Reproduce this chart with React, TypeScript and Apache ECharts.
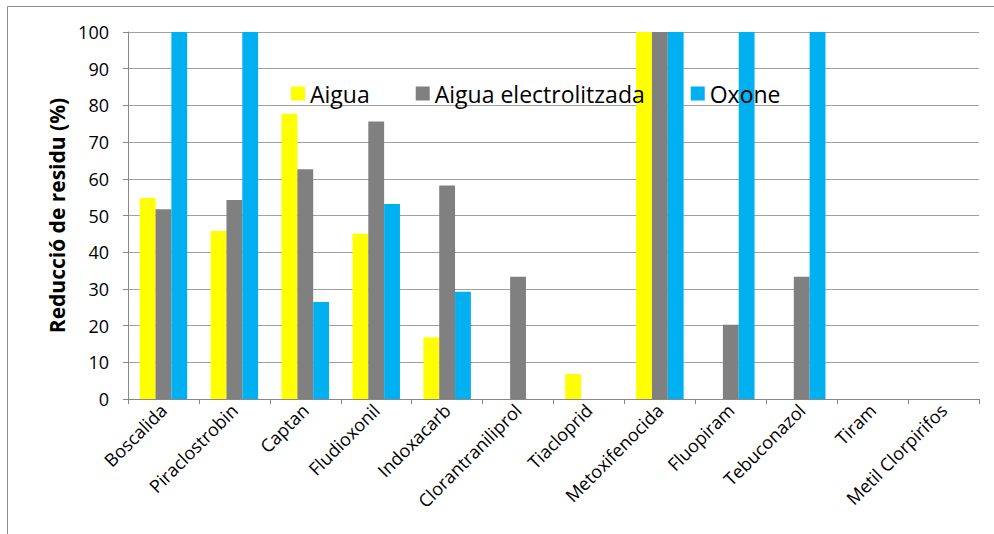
import React, { useEffect, useRef } from "react";
import * as echarts from "echarts";

const categories = [
  "Boscalida",
  "Piraclostrobin",
  "Captan",
  "Fludioxonil",
  "Indoxacarb",
  "Clorantraniliprol",
  "Tiacloprid",
  "Metoxifenocida",
  "Fluopiram",
  "Tebuconazol",
  "Tiram",
  "Metil Clorpirifos",
];
const aigua = [54.8, 45.8, 77.7, 45.0, 16.8, 0, 6.8, 100, 0, 0, 0, 0];
const aiguaElectro = [51.7, 54.2, 62.6, 75.6, 58.2, 33.3, 0, 100, 20.2, 33.3, 0, 0];
const oxone = [100, 100, 26.4, 53.1, 29.2, 0, 0, 100, 100, 100, 0, 0];
const yTicks = [0, 10, 20, 30, 40, 50, 60, 70, 80, 90, 100];

const FONT = "'Open Sans', 'Noto Sans', sans-serif";

export default function App() {
  const ref = useRef<HTMLDivElement>(null);
  useEffect(() => {
    if (!ref.current) return;
    const chart = echarts.init(ref.current, null, { renderer: "svg" });
    const mk = (name: string, data: number[], color: string) => ({
      name,
      type: "bar",
      data,
      barGap: "0%",
      barCategoryGap: "33%",
      itemStyle: { color },
    });
    chart.setOption({
      animation: false,
      backgroundColor: "#ffffff",
      textStyle: { fontFamily: FONT },
      graphic: [
        {
          type: "rect",
          shape: { x: 7.5, y: 6.5, width: 1100, height: 700 },
          style: { fill: "none", stroke: "#8c8c8c", lineWidth: 1 },
          silent: true,
        },
      ],
      legend: {
        left: 286,
        top: 77,
        itemWidth: 14,
        itemHeight: 14,
        itemGap: 46,
        icon: "rect",
        textStyle: { fontFamily: FONT, fontSize: 23, color: "#000" },
        data: ["Aigua", "Aigua electrolitzada", "Oxone"],
      },
      grid: { left: 128, top: 32, width: 851, height: 367, containLabel: false },
      xAxis: {
        type: "category",
        data: categories,
        axisLine: { lineStyle: { color: "#888", width: 1 } },
        axisTick: { show: true, alignWithLabel: false, length: 5, lineStyle: { color: "#888" } },
        axisLabel: {
          rotate: 45,
          interval: 0,
          fontFamily: FONT,
          fontSize: 18,
          color: "#000",
          margin: 8,
        },
      },
      yAxis: {
        type: "value",
        min: 0,
        max: 100,
        interval: 10,
        name: "Reducció de residu (%)",
        nameLocation: "middle",
        nameGap: 61,
        nameTextStyle: { fontFamily: FONT, fontSize: 21, fontWeight: "bold", color: "#000" },
        axisLine: { show: true, lineStyle: { color: "#888", width: 1 } },
        axisTick: { show: true, length: 5, lineStyle: { color: "#888" } },
        axisLabel: {
          fontFamily: FONT,
          fontSize: 18,
          color: "#000",
          margin: 19,
          formatter: (v: number) => (yTicks.includes(v) ? String(v) : ""),
        },
        splitLine: { show: true, lineStyle: { color: "#a0a0a0", width: 1 } },
      },
      series: [
        mk("Aigua", aigua, "#FFFF00"),
        mk("Aigua electrolitzada", aiguaElectro, "#808080"),
        mk("Oxone", oxone, "#00B0F0"),
      ],
    });
    return () => chart.dispose();
  }, []);
  return (
    <div
      ref={ref}
      style={{ position: "fixed", left: 0, top: 0, width: 994, height: 534, background: "#fff" }}
    />
  );
}
